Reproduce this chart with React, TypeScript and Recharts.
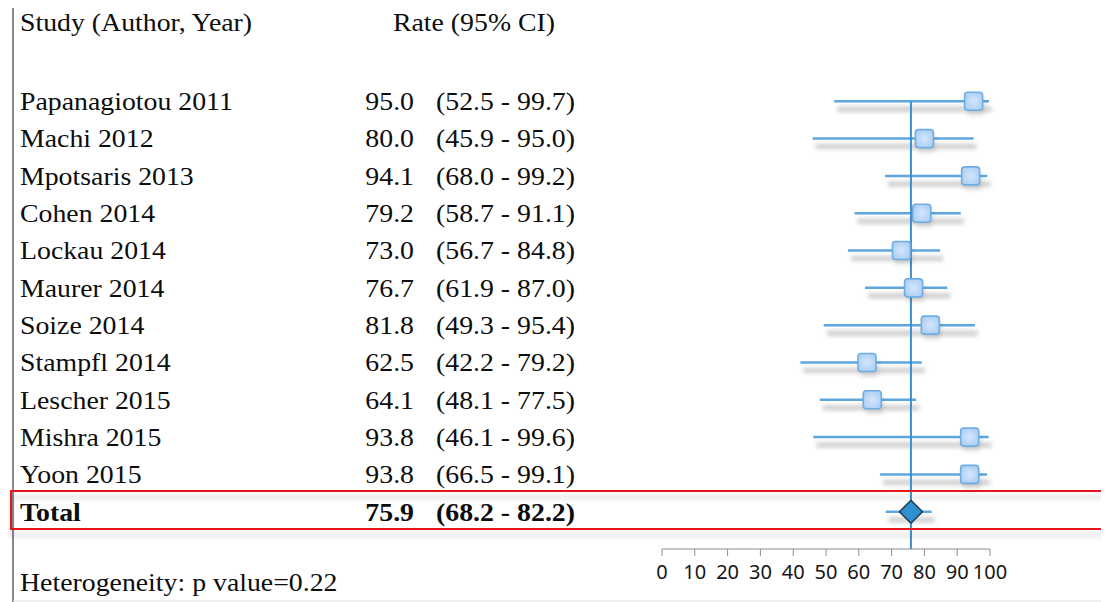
import { ScatterChart, Scatter, XAxis, YAxis, ReferenceLine } from "recharts"

const studies = [
  "Papanagiotou 2011",
  "Machi 2012",
  "Mpotsaris 2013",
  "Cohen 2014",
  "Lockau 2014",
  "Maurer 2014",
  "Soize 2014",
  "Stampfl 2014",
  "Lescher 2015",
  "Mishra 2015",
  "Yoon 2015",
]
const rates = [95.0, 80.0, 94.1, 79.2, 73.0, 76.7, 81.8, 62.5, 64.1, 93.8, 93.8]
const lower = [52.5, 45.9, 68.0, 58.7, 56.7, 61.9, 49.3, 42.2, 48.1, 46.1, 66.5]
const upper = [99.7, 95.0, 99.2, 91.1, 84.8, 87.0, 95.4, 79.2, 77.5, 99.6, 99.1]

const totalLabel = "Total"
const totalRate = 75.9
const totalLower = 68.2
const totalUpper = 82.2

const xTicks = [0, 10, 20, 30, 40, 50, 60, 70, 80, 90, 100]
const heterogeneityP = 0.22

const totalRow = studies.length
const rowTicks = [...studies.map((_, i) => i), totalRow]

const studyPoints = studies.map((name, i) => ({ name, rate: rates[i], row: i }))
const totalPoints = [{ name: totalLabel, rate: totalRate, row: totalRow }]

const SERIF = "'Liberation Serif', 'Times New Roman', serif"
const STRETCH = 1.07

function SText({ x, y, anchor = "start", bold = false, children }: any) {
  return (
    <text
      transform={`translate(${x},${y}) scale(${STRETCH},1)`}
      textAnchor={anchor}
      dy="0.34em"
      fontFamily={SERIF}
      fontSize={26}
      fontWeight={bold ? 700 : 400}
      fill="#0d0d0d"
    >
      {children}
    </text>
  )
}

function RowTick(props: any) {
  const { y, payload } = props
  const i = payload.value
  const isTotal = i === totalRow
  const name = isTotal ? totalLabel : studies[i]
  const r = isTotal ? totalRate : rates[i]
  const lo = isTotal ? totalLower : lower[i]
  const hi = isTotal ? totalUpper : upper[i]
  return (
    <g>
      <SText x={20} y={y} bold={isTotal}>{name}</SText>
      <SText x={414} y={y} anchor="end" bold={isTotal}>{r.toFixed(1)}</SText>
      <SText x={575} y={y} anchor="end" bold={isTotal}>{`(${lo.toFixed(1)} - ${hi.toFixed(1)})`}</SText>
    </g>
  )
}

function CiLine(p: any) {
  const { x1, y1, x2, y2 } = p
  return (
    <g>
      <line x1={x1 + 3} y1={y1 + 8} x2={x2 + 3} y2={y2 + 8} stroke="#000" strokeOpacity={0.2} strokeWidth={5} filter="url(#fp-blur)" />
      <line x1={x1} y1={y1} x2={x2} y2={y2} stroke="#5ea6de" strokeWidth={2.5} />
    </g>
  )
}

function SquareShape(p: any) {
  const { cx, cy } = p
  const s = 18
  return (
    <g>
      <rect x={cx - s / 2 + 2} y={cy - s / 2 + 5} width={s} height={s} rx={3} fill="#000" fillOpacity={0.12} filter="url(#fp-blur)" />
      <rect x={cx - s / 2} y={cy - s / 2} width={s} height={s} rx={3} fill="url(#fp-square)" stroke="#70ade3" strokeWidth={1.6} />
    </g>
  )
}

function DiamondShape(p: any) {
  const { cx, cy } = p
  const h = 11.5
  return (
    <polygon
      points={`${cx - h},${cy} ${cx},${cy - h} ${cx + h},${cy} ${cx},${cy + h}`}
      fill="#2e8fd1"
      stroke="#1e3d55"
      strokeWidth={1.5}
    />
  )
}

export default function App() {
  return (
    <div style={{ position: "relative", width: 1109, height: 602, marginLeft: -8, marginTop: -8, background: "#fff" }}>
      <svg width={0} height={0} style={{ position: "absolute" }}>
        <defs>
          <filter id="fp-blur" filterUnits="userSpaceOnUse" x={0} y={0} width={1109} height={602}>
            <feGaussianBlur stdDeviation={2} />
          </filter>
          <radialGradient id="fp-square" cx="50%" cy="50%" r="65%">
            <stop offset="0%" stopColor="#d4e7fc" />
            <stop offset="100%" stopColor="#a6cbf2" />
          </radialGradient>
          <filter id="fp-box" filterUnits="userSpaceOnUse" x={0} y={0} width={1109} height={602}>
            <feDropShadow dx={0} dy={6} stdDeviation={2.5} floodColor="#000" floodOpacity={0.2} />
          </filter>
        </defs>
      </svg>
      <ScatterChart width={1109} height={602} margin={{ top: 64, right: 119, bottom: 13, left: 62 }}>
        <XAxis
          type="number"
          dataKey="rate"
          domain={[0, 100]}
          ticks={xTicks}
          interval={0}
          height={40}
          tickSize={7}
          tickMargin={9}
          axisLine={{ stroke: "#8c8c8c" }}
          tickLine={{ stroke: "#8c8c8c" }}
          tick={{ fill: "#141414", fontSize: 20, fontFamily: "'Noto Sans', sans-serif" }}
        />
        <YAxis
          type="number"
          dataKey="row"
          domain={[-1, totalRow + 1]}
          ticks={rowTicks}
          interval={0}
          reversed
          width={600}
          axisLine={false}
          tickLine={false}
          tick={<RowTick />}
        />
        {studies.map((s, i) => (
          <ReferenceLine
            key={s}
            segment={[{ x: lower[i], y: i }, { x: upper[i], y: i }]}
            shape={<CiLine />}
          />
        ))}
        <ReferenceLine segment={[{ x: totalLower, y: totalRow }, { x: totalUpper, y: totalRow }]} shape={<CiLine />} />
        <ReferenceLine
          segment={[{ x: totalRate, y: 0 }, { x: totalRate, y: totalRow + 1 }]}
          stroke="#3f90d2"
          strokeWidth={2}
        />
        <Scatter data={studyPoints} shape={<SquareShape />} isAnimationActive={false} />
        <Scatter data={totalPoints} shape={<DiamondShape />} isAnimationActive={false} />
      </ScatterChart>
      <svg width={1109} height={602} style={{ position: "absolute", left: 0, top: 0, pointerEvents: "none" }}>
        <line x1={13} y1={3} x2={1109} y2={3} stroke="#6e6e6e" strokeWidth={2} />
        <line x1={13} y1={5} x2={1109} y2={5} stroke="#cfcfcf" strokeWidth={1} />
        <line x1={13} y1={2} x2={13} y2={602} stroke="#8a8a8a" strokeWidth={2} />
        <line x1={13} y1={601} x2={1109} y2={601} stroke="#e2e2e2" strokeWidth={1} />
        <rect x={11} y={491} width={1110} height={38} fill="none" stroke="#e3151b" strokeWidth={2} filter="url(#fp-box)" />
        <SText x={20} y={22}>Study (Author, Year)</SText>
        <SText x={474} y={22} anchor="middle">Rate (95% CI)</SText>
        <SText x={20} y={582}>{`Heterogeneity: p value=${heterogeneityP.toFixed(2)}`}</SText>
      </svg>
    </div>
  )
}
